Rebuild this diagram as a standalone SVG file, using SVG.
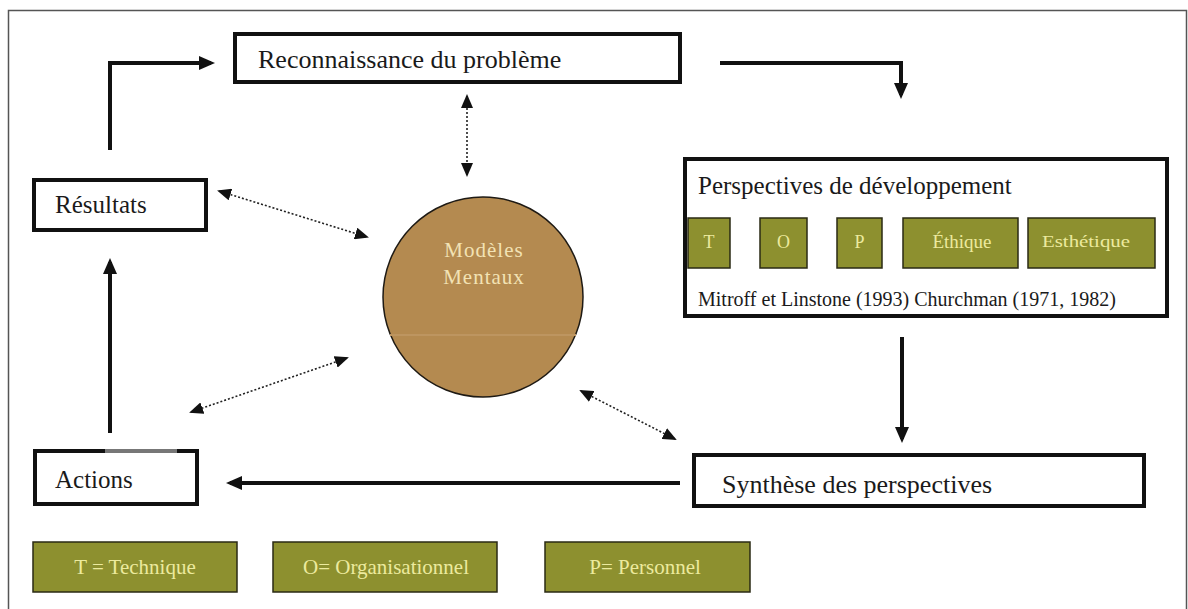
<svg xmlns="http://www.w3.org/2000/svg" width="1188" height="609" viewBox="0 0 1188 609">
  <style>
    .box { fill: #ffffff; stroke: #111111; stroke-width: 4; }
    .label { font-family: "Liberation Serif", "Times New Roman", serif; fill: #1a1a1a; font-size: 25px; }
    .ref { font-family: "Liberation Serif", "Times New Roman", serif; fill: #1a1a1a; font-size: 20px; }
    .tag { fill: #8d902f; stroke: #2a2a14; stroke-width: 1.5; }
    .tagtxt { font-family: "Liberation Serif", "Times New Roman", serif; fill: #ecea9e; font-size: 21px; text-anchor: middle; }
    .mm { font-family: "Liberation Serif", "Times New Roman", serif; fill: #f2e2b4; font-size: 21px; letter-spacing: 1px; text-anchor: middle; }
    .flow { fill: none; stroke: #111111; stroke-width: 4; marker-end: url(#headSolid); }
    .link { fill: none; stroke: #222222; stroke-width: 1.6; stroke-dasharray: 2 2; marker-start: url(#headDot); marker-end: url(#headDot); }
  </style>
  <defs>
    <marker id="headSolid" viewBox="0 0 16 14" refX="12" refY="7" markerWidth="16" markerHeight="14" markerUnits="userSpaceOnUse" orient="auto">
      <path d="M0,0 L16,7 L0,14 z" fill="#111111"/>
    </marker>
    <marker id="headDot" viewBox="0 0 14 12" refX="12" refY="6" markerWidth="14" markerHeight="12" markerUnits="userSpaceOnUse" orient="auto-start-reverse">
      <path d="M0,0 L14,6 L0,12 z" fill="#111111"/>
    </marker>
  </defs>

  <rect width="1188" height="609" fill="#ffffff"/>

  <!-- outer frame -->
  <path d="M8.5,609 V10.5 H1186.5 V609" fill="none" stroke="#555555" stroke-width="1.5"/>

  <!-- connectors -->
  <g id="connectors">
    <path class="flow" d="M110,150 V63 H211"/>
    <path class="flow" d="M720,63 H901 V95"/>
    <path class="flow" d="M902,337 V439"/>
    <path class="flow" d="M680,483 H230"/>
    <path class="flow" d="M110,433 V262"/>
    <line class="link" x1="467" y1="96" x2="467" y2="175"/>
    <line class="link" x1="219" y1="191" x2="367" y2="237"/>
    <line class="link" x1="347" y1="358" x2="191" y2="412"/>
    <line class="link" x1="581" y1="391" x2="675" y2="439"/>
  </g>

  <g id="reconnaissance">
    <rect class="box" x="235" y="34" width="445" height="48"/>
    <text class="label" x="258" y="68" style="font-size:26px">Reconnaissance du problème</text>
  </g>

  <g id="perspectives">
    <rect class="box" x="685" y="159" width="482" height="157"/>
    <text class="label" x="698" y="194">Perspectives de développement</text>
    <rect class="tag" x="688" y="218" width="42" height="50"/>
    <text class="tagtxt" x="709" y="248" style="font-size:18px">T</text>
    <rect class="tag" x="760" y="218" width="47" height="50"/>
    <text class="tagtxt" x="783.5" y="248" style="font-size:18px">O</text>
    <rect class="tag" x="837" y="218" width="45" height="50"/>
    <text class="tagtxt" x="859.5" y="248" style="font-size:18px">P</text>
    <rect class="tag" x="903" y="218" width="115" height="50"/>
    <text class="tagtxt" x="962" y="248" style="font-size:19px">Éthique</text>
    <rect class="tag" x="1028" y="218" width="127" height="50"/>
    <text class="tagtxt" x="1086" y="247" style="font-size:17px" textLength="88" lengthAdjust="spacingAndGlyphs">Esthétique</text>
    <text class="ref" x="698" y="306">Mitroff et Linstone (1993) Churchman (1971, 1982)</text>
  </g>

  <g id="resultats">
    <rect class="box" x="34" y="180" width="172" height="50"/>
    <text class="label" x="55" y="213">Résultats</text>
  </g>

  <g id="actions">
    <rect class="box" x="35" y="451" width="162" height="53"/>
    <line x1="105" y1="451" x2="177" y2="451" stroke="#777777" stroke-width="4"/>
    <text class="label" x="55" y="488">Actions</text>
  </g>

  <g id="synthese">
    <rect class="box" x="694" y="455" width="450" height="51"/>
    <text class="label" x="722" y="493" style="font-size:26px">Synthèse des perspectives</text>
  </g>

  <g id="modeles">
    <circle cx="483" cy="297" r="100" fill="#b48a50" stroke="#1e1a14" stroke-width="1.5"/>
    <line x1="390" y1="335" x2="576" y2="335" stroke="#bd9560" stroke-width="2"/>
    <text class="mm" x="484" y="257">Modèles</text>
    <text class="mm" x="484" y="284">Mentaux</text>
  </g>

  <g id="legende">
    <rect class="tag" x="33" y="542" width="204" height="50"/>
    <text class="tagtxt" x="135" y="574">T = Technique</text>
    <rect class="tag" x="273" y="542" width="224" height="50"/>
    <text class="tagtxt" x="386" y="574">O= Organisationnel</text>
    <rect class="tag" x="545" y="542" width="205" height="50"/>
    <text class="tagtxt" x="645" y="574">P= Personnel</text>
  </g>
</svg>
